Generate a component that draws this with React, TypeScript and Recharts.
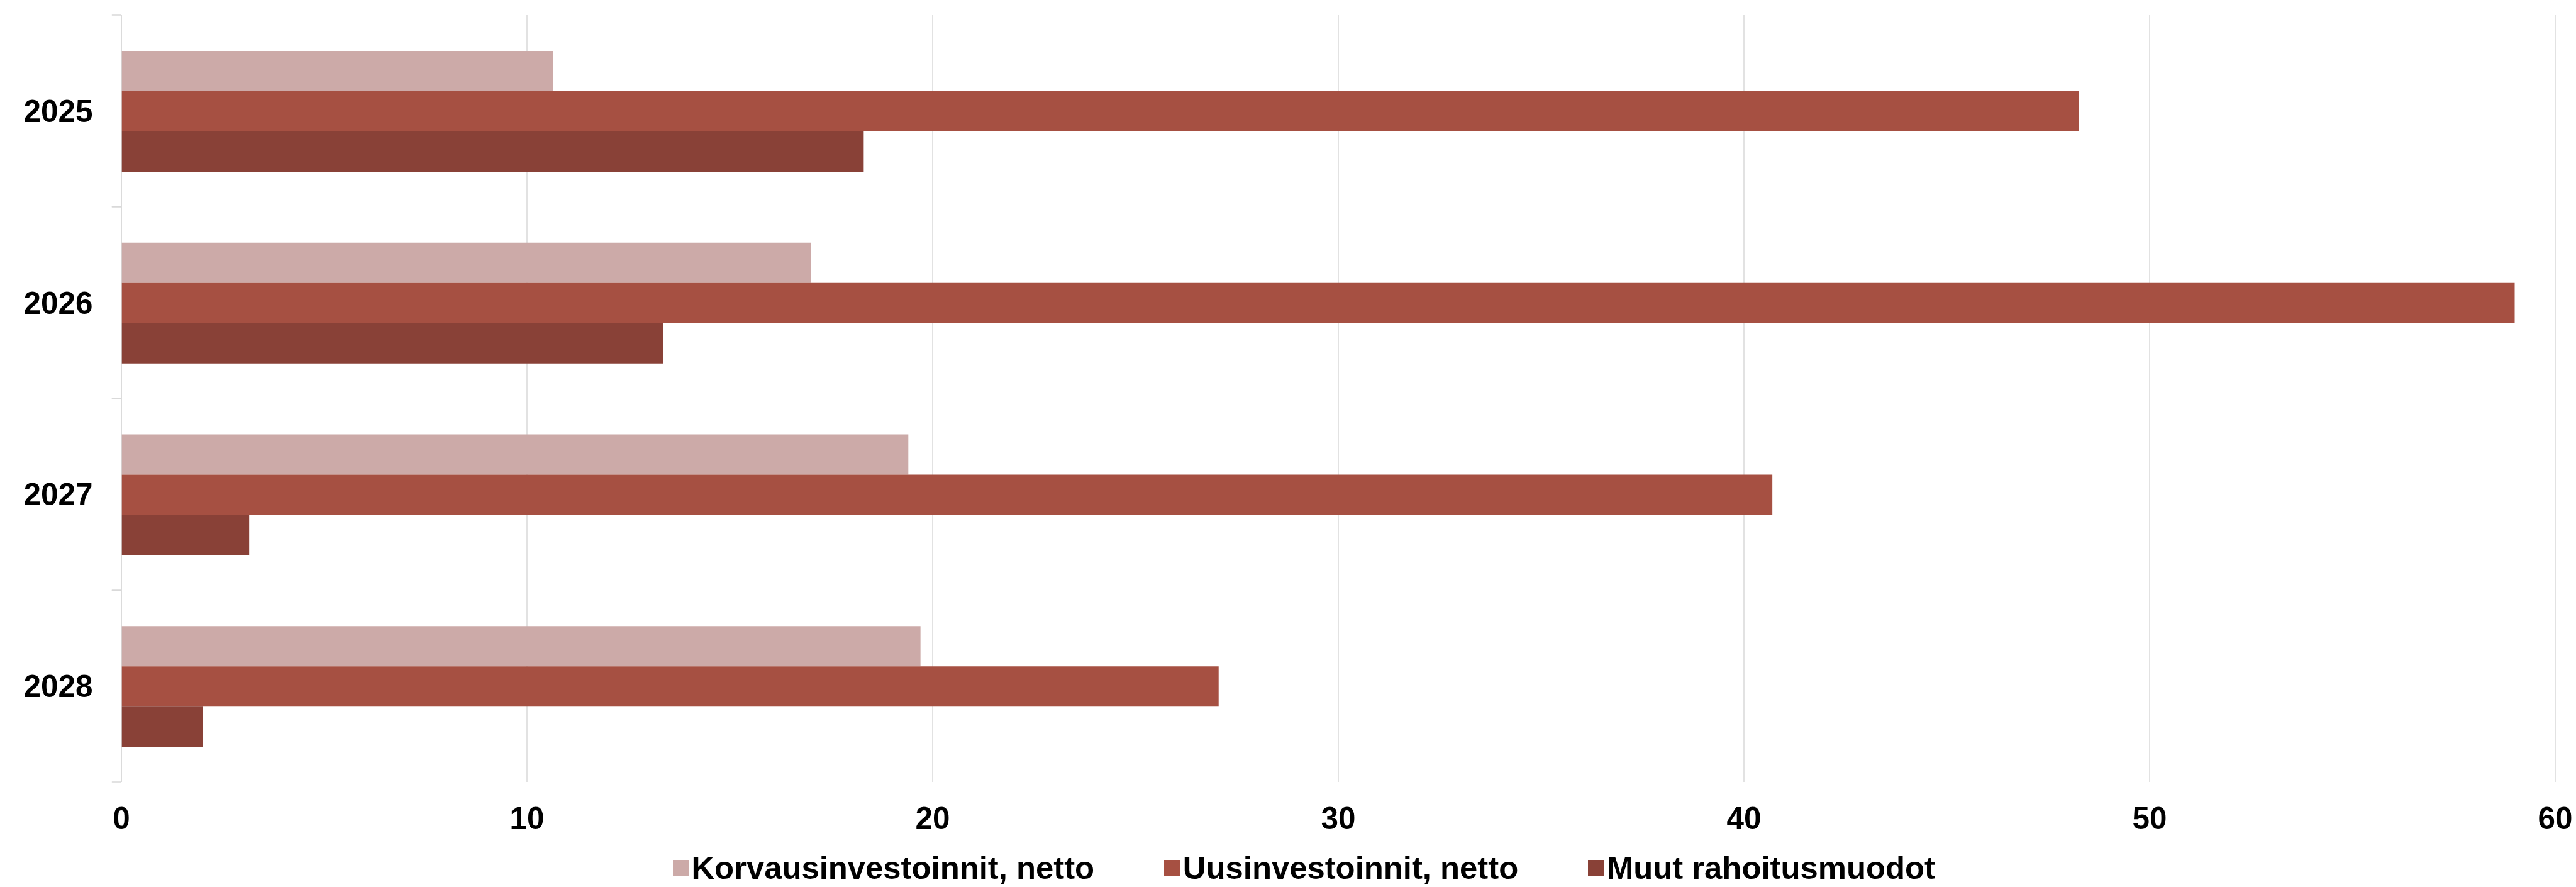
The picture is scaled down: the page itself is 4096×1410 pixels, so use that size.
import { BarChart, Bar, XAxis, YAxis, CartesianGrid, Legend } from "recharts";

// investment volumes per year
const years = ["2025", "2026", "2027", "2028"];
const korvaus = [10.65, 17.0, 19.4, 19.7];
const uusi = [48.25, 59.0, 40.7, 27.05];
const muut = [18.3, 13.35, 3.15, 2.0];
const xTicks = [0, 10, 20, 30, 40, 50, 60];
const seriesNames = [
  "Korvausinvestoinnit, netto",
  "Uusinvestoinnit, netto",
  "Muut rahoitusmuodot",
];

const COLORS = ["#CCAAA8", "#A65042", "#894137"];
const KEYS = ["korvaus", "uusi", "muut"];
const FONT = '"Liberation Sans", Arial, Helvetica, sans-serif';
const GRID = "#d9d9d9";

const W = 4096;
const H = 1410;
const MARGIN = { top: 24, right: 33, bottom: 0, left: 0 };
const Y_W = 193;
const X_H = 167;
const PLOT_H = H - MARGIN.top - MARGIN.bottom - X_H;
const HALF_BAND = PLOT_H / years.length / 2;
const Y_TICK_MARGIN = 45.6;

const data = years.map((year, i) => ({
  year,
  korvaus: korvaus[i],
  uusi: uusi[i],
  muut: muut[i],
}));

function YearTick(props: any) {
  const { x, y, payload } = props;
  const axisX = x + Y_TICK_MARGIN;
  return (
    <g>
      <line x1={axisX - 15.2} x2={axisX} y1={y - HALF_BAND} y2={y - HALF_BAND} stroke={GRID} strokeWidth={1.5} />
      <line x1={axisX - 15.2} x2={axisX} y1={y + HALF_BAND} y2={y + HALF_BAND} stroke={GRID} strokeWidth={1.5} />
      <text
        x={x}
        y={y}
        dy="0.355em"
        textAnchor="end"
        fontFamily={FONT}
        fontWeight="bold"
        fontSize={49.4}
        fill="#000"
      >
        {payload.value}
      </text>
    </g>
  );
}

function LegendRow() {
  return (
    <div
      style={{
        display: "flex",
        alignItems: "center",
        fontFamily: FONT,
        fontWeight: "bold",
        fontSize: 50.8,
        lineHeight: "58px",
        color: "#000",
        whiteSpace: "nowrap",
      }}
    >
      {seriesNames.map((name, i) => (
        <div key={name} style={{ display: "flex", alignItems: "center", marginRight: 111 }}>
          <span
            style={{
              display: "inline-block",
              width: 25.65,
              height: 25.65,
              background: COLORS[i],
              marginRight: 4.1,
            }}
          />
          <span>{name}</span>
        </div>
      ))}
    </div>
  );
}

export default function App() {
  return (
    <div style={{ width: W, height: H, background: "#fff" }}>
      <style>{"body{margin:0}"}</style>
      <BarChart
        width={W}
        height={H}
        data={data}
        layout="vertical"
        margin={MARGIN}
        barCategoryGap="18.7%"
        barGap={0}
      >
        <CartesianGrid horizontal={false} stroke={GRID} strokeWidth={1.5} />
        <XAxis
          type="number"
          domain={[0, 60]}
          ticks={xTicks}
          axisLine={false}
          tickLine={false}
          tickSize={0}
          tickMargin={40}
          height={X_H}
          tick={{ fontFamily: FONT, fontWeight: "bold", fontSize: 49.4, fill: "#000" }}
        />
        <YAxis
          type="category"
          dataKey="year"
          width={Y_W}
          axisLine={{ stroke: GRID, strokeWidth: 1.5 }}
          tickLine={false}
          tickSize={0}
          tickMargin={Y_TICK_MARGIN}
          tick={<YearTick />}
          interval={0}
        />
        <Legend
          layout="horizontal"
          verticalAlign="middle"
          align="center"
          wrapperStyle={{ top: 1351, left: 1069.7, width: 3000 }}
          content={() => <LegendRow />}
        />
        {KEYS.map((k, i) => (
          <Bar
            key={k}
            dataKey={k}
            name={seriesNames[i]}
            fill={COLORS[i]}
            isAnimationActive={false}
          />
        ))}
      </BarChart>
    </div>
  );
}
